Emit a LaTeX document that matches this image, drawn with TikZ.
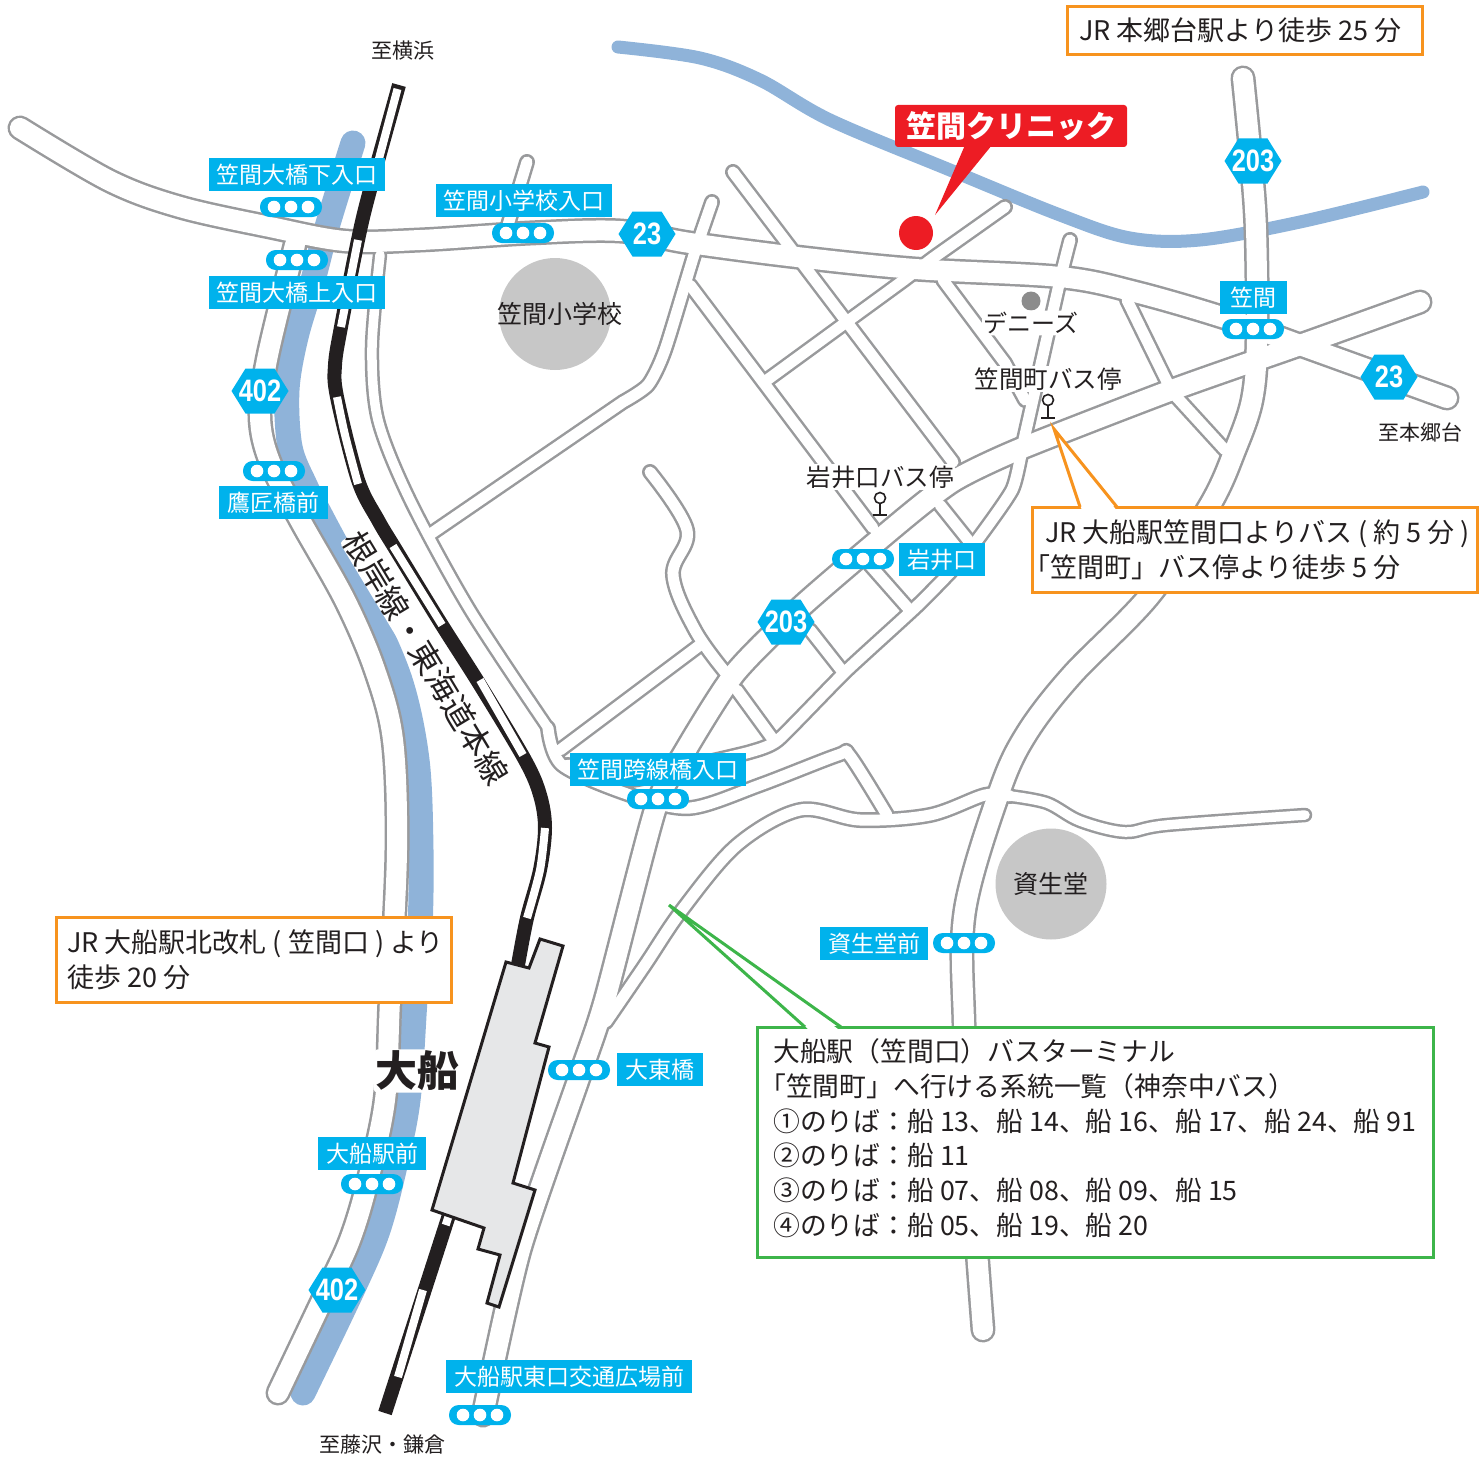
\documentclass[tikz,border=0pt]{standalone}
\usepackage{fontspec}
\setmainfont{Noto Sans CJK JP}
\newfontfamily\hexfont[FakeStretch=0.82]{Liberation Sans}
\definecolor{cy}{HTML}{00B2EC}
\definecolor{riverblue}{HTML}{8FB3D9}
\definecolor{roadgray}{HTML}{999A9C}
\definecolor{orangeb}{HTML}{F7931E}
\definecolor{greenb}{HTML}{3DB54A}
\definecolor{redb}{HTML}{ED1C24}
\definecolor{stgray}{HTML}{E6E7E8}
\definecolor{ink}{HTML}{231F20}
\newcommand\fs[1]{\fontsize{#1}{#1}\selectfont}
\tikzset{
  lbl/.style={fill=cy,text=white,inner sep=0pt,font=\fs{23},minimum height=33pt},
  txt/.style={text=ink,inner sep=0pt,font=\fs{24}},
  halotxt/.style={txt,fill=white,rounded corners=4pt,inner sep=1.5pt},
  hext/.style={text=white,inner sep=0pt,font=\fs{31}\hexfont\bfseries},
  obox/.style={draw=orangeb,line width=3pt,fill=white,inner sep=0pt,outer sep=0pt,anchor=north west},
  gbox/.style={draw=greenb,line width=3pt,fill=white,inner sep=0pt,outer sep=0pt,anchor=north west},
  ctxt/.style={text=ink,inner sep=0pt,anchor=base west,font=\fs{27}},
  gtxt/.style={text=ink,inner sep=0pt,anchor=base west,font=\fs{26.8}},
  railw/.style={draw=white,line width=8pt},
}
\newcommand\sigl[2]{%
  \fill[cy,rounded corners=9.7pt] (#1-31,#2-10) rectangle (#1+31,#2+10);
  \foreach \dx in {-17,0,17} \fill[white] (#1+\dx,#2) circle[radius=6.3];}
\newcommand\hexb[4]{%
  \fill[cy] (#1-28.5,#2)--(#1-14.5,#2-22.5)--(#1+14.5,#2-22.5)--(#1+28.5,#2)--(#1+14.5,#2+22.5)--(#1-14.5,#2+22.5)--cycle;
  \node[hext] (#3) at (#1,#2) {#4};}
\newcommand\RoadNet{%
  % wide roads
  \draw[rw] plot[smooth,tension=.55] coordinates {(20,128)(110,181)(180,207)(270,227)(345,241)(420,240)(530,233)(620,231)(690,243)(797,257)(915,269)(1060,277)(1135,292)(1225,318)(1300,345)(1447,398)};
  \draw[rw] plot[smooth,tension=.55] coordinates {(1243,78)(1251,160)(1256,230)(1257,340)(1252,400)(1235,450)(1210,505)(1150,595)(1072,675)(1027,733)(1000,790)(965,910)(964,1023)(972,1180)(983,1330)};
  \draw[rw] plot[smooth,tension=.4] coordinates {(1420,302)(1300,345)(1172,390)(1020,449)(955,480)(905,518)(803,605)(735,673)(684,753)(655,810)(605,1000)(580,1075)(520,1250)(483,1415)};
  \draw[rw] plot[smooth,tension=.55] coordinates {(295,245)(268,355)(260,416)(270,462)(300,520)(345,600)(375,670)(393,740)(397,850)(390,1000)(385,1100)(367,1184)(350,1240)(327,1290)(278,1393)};
  % narrow roads
  \draw[rn] plot[smooth,tension=.55] coordinates {(606,1022)(645,965)(682,910)(737,845)(800,810)(860,820)(930,815)(985,795)(1010,796)};
  \draw[rt] plot[smooth,tension=.5] coordinates {(380,255)(372,347)(378,420)(410,500)(470,610)(548,728)};
  \draw[rn] plot[smooth,tension=.5] coordinates {(548,728)(562,765)(630,795)(690,808)(760,785)(838,755)(850,756)(887,815)};
  \draw[rt] plot[smooth,tension=.55] coordinates {(1010,796)(1047,803)(1080,821)(1125,832)(1167,825)(1305,815)};
  \draw[rn] (733,172)--(953,462);
  \draw[rn] plot[smooth,tension=.4] coordinates {(712,202)(694,255)(665,350)(648,385)(623,402)} -- (429,535);
  \draw[rn] (690,285)--(873,528);
  \draw[rn] (1005,207)--(933,258)--(904,280)--(767,380);
  \draw[rn] (943,280)--(1005,363)--(1025,400);
  \draw[rn] plot[smooth,tension=.3] coordinates {(1070,240)(1060,280)(1025,435)(1012,490)(965,556)(918,605)(845,672)(778,740)(750,752)(695,765)(630,780)(568,765)};
  \draw[rn] (560,750)--(700,645);
  \draw[rn] plot[smooth,tension=.6] coordinates {(650,472)(687,530)(673,575)(695,630)(725,672)};
  \draw[rn] (1127,300)--(1172,392)--(1225,450);
  \draw[rn] (737,690)--(772,738);
  \draw[rn] (810,630)--(843,672);
  \draw[rn] (870,565)--(907,607);
  \draw[rn] (940,505)--(968,540);
  \draw[rn] (527,162)--(508,225);
}
\begin{document}
\begin{tikzpicture}[x=1pt,y=-1pt]
\useasboundingbox (0,0) rectangle (1483,1461);
% rivers
\draw[riverblue,line width=25pt,line cap=round,line join=round] plot[smooth,tension=.55] coordinates {(353,143)(327,227)(313,280)(296,337)(287,390)(290,447)(305,485)(323,520)(365,600)(400,680)(417,760)(421,850)(420,930)(415,1000)(408,1100)(394,1170)(377,1233)(351,1293)(303,1393)};
\draw[riverblue,line width=13pt,line cap=round,line join=round] plot[smooth,tension=.55] coordinates {(618,47)(700,58)(760,80)(830,120)(950,170)(1060,215)(1130,238)(1200,240)(1300,222)(1423,192)};
% roads: outline pass, then inner pass
\begin{scope}[line cap=round,line join=round,rw/.style={line width=25pt,draw=roadgray},rn/.style={line width=16pt,draw=roadgray},rt/.style={line width=14.5pt,draw=roadgray}]
\RoadNet
\end{scope}
\begin{scope}[line cap=round,line join=round,rw/.style={line width=20pt,draw=white},rn/.style={line width=11pt,draw=white},rt/.style={line width=9.5pt,draw=white}]
\RoadNet
\end{scope}
% line name, under the railway so that its backing never clips the track
\node[halotxt,font=\fs{32},rotate=-58.9,inner sep=0pt] (line) at (426.5,658) {根岸線・東海道本線};
% railway
\draw[ink,line width=14pt] plot[smooth,tension=.55] coordinates {(399,85)(370,190)(358,240)(341,327)(335,365)(337,397)(358,480)(378,520)(396,550)(440,622)(480,685)(525,760)(540,795)(545,828)(540,870)(527,918)(518,965)};
\draw[railw] (397.5,89)--(372,185);
\draw[railw] (358,240)--(341,327);
\draw[railw] plot[smooth,tension=.5] coordinates {(337,397)(345,435)(358,484)};
\draw[railw] (393,546)--(442,625);
\draw[railw] (480,680)--(523,755);
\draw[railw] plot[smooth,tension=.5] coordinates {(545,828)(540,870)(527,918)};
\draw[ink,line width=14pt] (449,1215)--(385,1413);
\draw[railw] (449,1215)--(445.7,1225);
\draw[railw] (423,1290)--(398,1377);
% station
\filldraw[fill=stgray,draw=ink,line width=3pt,line join=miter] (540,939)--(563,946)--(535,1043)--(549,1047)--(513,1183)--(535,1190)--(499,1307)--(487,1303)--(500,1255)--(478,1249)--(484,1228)--(432,1210)--(506,962)--(529,968)--cycle;
% landmarks
\fill[black!22] (555,314) circle[radius=56];
\fill[black!22] (1051,884) circle[radius=55.5];
\fill[black!45] (1031,301) circle[radius=9.5];
\node[txt,font=\fs{25}] (school) at (560,314) {笠間小学校};
\node[txt,font=\fs{25}] (shiseido) at (1051,884) {資生堂};
\node[halotxt] (dennys) at (1031,323) {デニーズ};
\node[halotxt,font=\fs{24.5}] (kasamacho) at (1048,379) {笠間町バス停};
\node[halotxt,font=\fs{24.5}] (iwaiguchi) at (880,477) {岩井口バス停};
\draw[ink,line width=1.6pt] (1048,406)--(1048,418) (1041,418)--(1055,418);
\draw[ink,line width=1.6pt,fill=white] (1048,400) circle[radius=5.5];
\draw[ink,line width=1.6pt] (880,504)--(880,515) (873,515)--(887,515);
\draw[ink,line width=1.6pt,fill=white] (880,498) circle[radius=5.5];
\node[txt,font=\fs{21}] (toyokohama) at (403,51) {至横浜};
\node[txt,font=\fs{21}] (tohongo) at (1420,432) {至本郷台};
\node[txt,font=\fs{21}] (tofujisawa) at (382,1445) {至藤沢・鎌倉};
\node[halotxt,font=\fs{42}\bfseries] (ofuna) at (417,1071) {大船};
% signals
\sigl{291}{207}\sigl{297}{260}\sigl{523}{233}\sigl{274}{471}\sigl{1253}{329}\sigl{863}{559}\sigl{658}{799}\sigl{964}{943}\sigl{579}{1070}\sigl{372}{1184}\sigl{480}{1415}
% labels
\node[lbl,minimum width=176pt] (l1) at (297,174.5) {笠間大橋下入口};
\node[lbl,minimum width=176pt] (l2) at (524,200.5) {笠間小学校入口};
\node[lbl,minimum width=176pt] (l3) at (297,292.5) {笠間大橋上入口};
\node[lbl,minimum width=109pt] (l4) at (273.5,502.5) {鷹匠橋前};
\node[lbl,minimum width=67pt] (l5) at (1253.5,297.5) {笠間};
\node[lbl,minimum width=86pt] (l6) at (942,559.5) {岩井口};
\node[lbl,minimum width=176pt] (l7) at (658,769.5) {笠間跨線橋入口};
\node[lbl,minimum width=108pt] (l8) at (874,943.5) {資生堂前};
\node[lbl,minimum width=86pt] (l9) at (660,1069.5) {大東橋};
\node[lbl,minimum width=108pt] (l10) at (372,1153.5) {大船駅前};
\node[lbl,minimum width=246pt] (l11) at (569,1376.5) {大船駅東口交通広場前};
% route badges
\hexb{647}{234}{h1}{23}
\hexb{1253}{161}{h2}{203}
\hexb{1389}{377}{h3}{23}
\hexb{786}{622}{h4}{203}
\hexb{260}{391}{h5}{402}
\hexb{337}{1290}{h6}{402}
% clinic
\fill[redb] (916,233) circle[radius=17];
\coordinate (tipred) at (935,215);
\fill[redb] (965,145)--(tipred)--(992,145)--cycle;
\node[fill=redb,text=white,rounded corners=3pt,inner sep=0pt,minimum width=232pt,minimum height=42pt,font=\fs{30}\bfseries] (clinic) at (1011,126) {笠間クリニック};
% callouts
\node[obox,minimum width=355pt,minimum height=48pt] (c1) at (1067,7) {};
\node[ctxt] (c1a) at (1079,41) {JR 本郷台駅より徒歩 25 分};
\node[obox,minimum width=445pt,minimum height=85pt] (c2) at (1032,507) {};
\node[ctxt] (c2a) at (1045,542) {JR 大船駅笠間口よりバス ( 約 5 分 )};
\node[ctxt] (c2b) at (1023,577) {「笠間町」バス停より徒歩 5 分};
\coordinate (tip2) at (1054,429);
\fill[white] (1081.5,509)--(tip2)--(1115.5,509)--cycle;
\draw[orangeb,line width=3pt,line join=miter] (1080,507)--(tip2)--(1117,507);
\node[obox,minimum width=395pt,minimum height=85pt] (c3) at (56,917) {};
\node[ctxt] (c3a) at (67,952) {JR 大船駅北改札 ( 笠間口 ) より};
\node[ctxt] (c3b) at (67,987) {徒歩 20 分};
\node[gbox,minimum width=676pt,minimum height=230pt] (c4) at (757,1027) {};
\node[gtxt] (g1) at (773,1061) {大船駅（笠間口）バスターミナル};
\node[gtxt] (g2) at (759,1096) {「笠間町」へ行ける系統一覧（神奈中バス）};
\node[gtxt] (g3) at (773,1131) {①のりば：船 13、船 14、船 16、船 17、船 24、船 91};
\node[gtxt] (g4) at (773,1165) {②のりば：船 11};
\node[gtxt] (g5) at (773,1200) {③のりば：船 07、船 08、船 09、船 15};
\node[gtxt] (g6) at (773,1235) {④のりば：船 05、船 19、船 20};
\coordinate (tip4) at (669,905);
\fill[white] (808,1029)--(tip4)--(838,1029)--cycle;
\draw[greenb,line width=3pt,line join=miter] (805,1027)--(tip4)--(841,1027);
\end{tikzpicture}
\end{document}
